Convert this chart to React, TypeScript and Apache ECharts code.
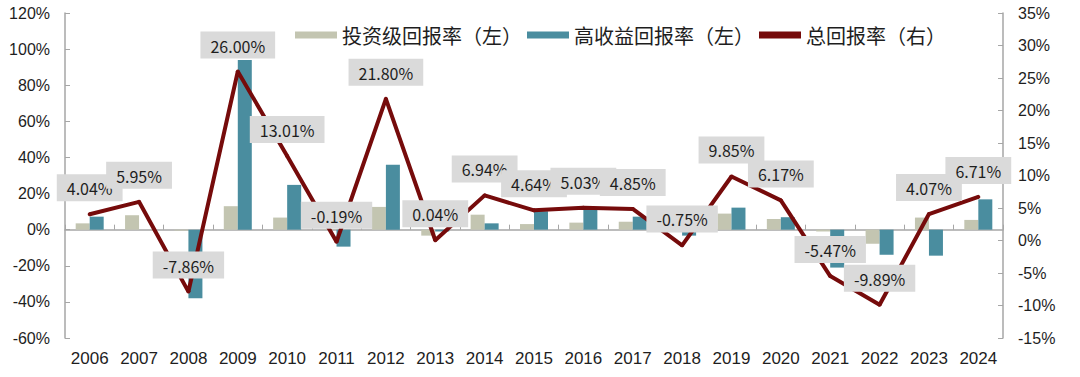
import React, { useEffect, useRef } from "react";
import * as echarts from "echarts";

const years = ["2006","2007","2008","2009","2010","2011","2012","2013","2014","2015","2016","2017","2018","2019","2020","2021","2022","2023","2024"];
const igReturns = [3.5, 8.0, -0.5, 13.0, 6.7, 0.3, 12.6, -3.3, 8.3, 3.1, 3.9, 4.4, 0.0, 8.9, 5.9, -1.0, -7.8, 6.7, 5.4];
const hyReturns = [7.2, 0.0, -38.0, 94.0, 24.8, -9.4, 36.0, -1.0, 3.5, 10.2, 11.7, 7.2, -3.3, 12.2, 6.9, -21.0, -13.9, -14.4, 16.8];
const totalReturns = [4.04, 5.95, -7.86, 26.0, 13.01, -0.19, 21.8, 0.04, 6.94, 4.64, 5.03, 4.85, -0.75, 9.85, 6.17, -5.47, -9.89, 4.07, 6.71];
const seriesNames = ["投资级回报率（左）", "高收益回报率（左）", "总回报率（右）"];

const IG_COLOR = "#c3c5b1";
const HY_COLOR = "#4a8d9f";
const LINE_COLOR = "#760b0b";
const AXIS_COLOR = "#a6a6a6";
const TEXT_COLOR = "#1e1e1e";

export default function App() {
  const ref = useRef<HTMLDivElement>(null);
  useEffect(() => {
    if (!ref.current) return;
    const chart = echarts.init(ref.current, null, { renderer: "svg" });
    chart.setOption({
      animation: false,
      backgroundColor: "#ffffff",
      grid: { left: 65, right: 77, top: 13, bottom: 39, containLabel: false },
      legend: {
        left: 290,
        top: 20,
        itemWidth: 42,
        itemHeight: 7,
        itemGap: 5,
        textStyle: { fontSize: 20, color: TEXT_COLOR, fontFamily: "Noto Sans CJK SC" },
        data: seriesNames.map((n) => ({ name: n, icon: "rect" })),
      },
      xAxis: [
        {
          type: "category",
          data: years,
          position: "bottom",
          axisLine: { show: false, onZero: false },
          axisTick: { show: false },
          axisLabel: { fontSize: 17, color: TEXT_COLOR, fontFamily: "Liberation Sans", margin: 12 },
        },
        {
          type: "category",
          data: years,
          position: "bottom",
          axisLine: { show: true, onZero: true, onZeroAxisIndex: 0, lineStyle: { color: AXIS_COLOR, width: 1.5 } },
          axisTick: { show: true, inside: true, length: 5, lineStyle: { color: AXIS_COLOR } },
          axisLabel: { show: false },
        },
      ],
      yAxis: [
        {
          type: "value",
          min: -60,
          max: 120,
          interval: 20,
          axisLine: { show: true, lineStyle: { color: AXIS_COLOR, width: 1.5 } },
          axisTick: { show: true, inside: true, length: 5, lineStyle: { color: AXIS_COLOR } },
          splitLine: { show: false },
          axisLabel: { formatter: "{value}%", fontSize: 16, color: TEXT_COLOR, fontFamily: "Liberation Sans", margin: 15 },
        },
        {
          type: "value",
          min: -15,
          max: 35,
          interval: 5,
          position: "right",
          axisLine: { show: true, lineStyle: { color: AXIS_COLOR, width: 1.5 } },
          axisTick: { show: true, inside: true, length: 5, lineStyle: { color: AXIS_COLOR } },
          splitLine: { show: false },
          axisLabel: { formatter: "{value}%", fontSize: 16, color: TEXT_COLOR, fontFamily: "Liberation Sans", margin: 15 },
        },
      ],
      series: [
        {
          name: seriesNames[0],
          type: "bar",
          xAxisIndex: 0,
          yAxisIndex: 0,
          data: igReturns,
          barWidth: 14,
          barGap: "0%",
          itemStyle: { color: IG_COLOR },
        },
        {
          name: seriesNames[1],
          type: "bar",
          xAxisIndex: 0,
          yAxisIndex: 0,
          data: hyReturns,
          barWidth: 14,
          barGap: "0%",
          itemStyle: { color: HY_COLOR },
        },
        {
          name: seriesNames[2],
          type: "line",
          xAxisIndex: 0,
          yAxisIndex: 1,
          data: totalReturns,
          symbol: "circle",
          symbolSize: 4,
          lineStyle: { color: LINE_COLOR, width: 4 },
          itemStyle: { color: LINE_COLOR },
          z: 5,
          label: {
            show: true,
            position: "top",
            distance: 11,
            formatter: (p: any) => p.value.toFixed(2) + "%",
            fontSize: 16,
            color: TEXT_COLOR,
            fontFamily: "Noto Sans CJK SC",
            backgroundColor: "#dadada",
            padding: [6, 10, 5, 10],
          },
        },
      ],
    });
    return () => chart.dispose();
  }, []);
  return <div ref={ref} style={{ width: 1080, height: 377, position: "absolute", left: 0, top: 0 }} />;
}
